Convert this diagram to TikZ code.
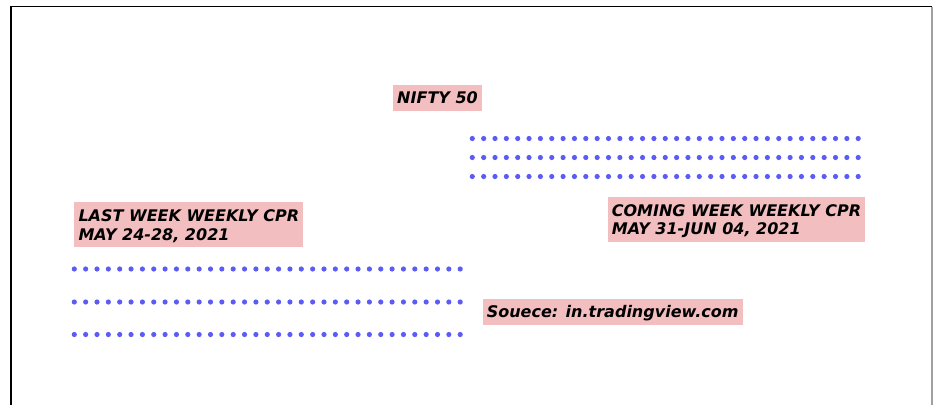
\documentclass[tikz,border=0pt]{standalone}
\usepackage{fontspec}
\setmainfont{DejaVu Sans}
\begin{document}
\begin{tikzpicture}[x=0.75pt,y=0.75pt,yscale=-1,xscale=1,
  cprlabel/.style={fill={rgb, 255:red, 242; green, 190; blue, 191 },inner xsep=3.2pt,inner ysep=0pt,text height=14.4pt,text depth=5pt,align=left,font=\fontsize{12}{14.1}\selectfont\bfseries\itshape},
  cprdot/.style={fill={rgb, 255:red, 92; green, 92; blue, 245 }}]
\useasboundingbox (0,0) rectangle (933,405);

%Shape: Frame
\draw  [line width=1.4pt] (10.8,405) -- (10.8,6.5) -- (932,6.5) ;
\draw  [color={rgb, 255:red, 160; green, 160; blue, 160 }  ,line width=0.8pt] (932,6.5) -- (932,405) ;

%Shape: Dot rows, coming week
\foreach \y in {138.5,157.5,176.5} {\foreach \i in {0,...,34} {\fill [cprdot] (472.3+11.35*\i,\y) circle (2.6) ;}}
%Shape: Dot rows, last week
\foreach \y in {269,302,334.5} {\foreach \i in {0,...,34} {\fill [cprdot] (74.3+11.35*\i,\y) circle (2.6) ;}}

% Text Node
\node (nifty) [cprlabel,anchor=west] at (392.7,97.7) {NIFTY 50};
% Text Node
\node (lastweek) [cprlabel,anchor=west,text height=28.5pt] at (74,224.8) {LAST WEEK WEEKLY CPR\\MAY 24-28, 2021};
% Text Node
\node (comingweek) [cprlabel,anchor=west,text height=28.5pt] at (607.3,219.2) {COMING WEEK WEEKLY CPR\\MAY 31-JUN 04, 2021};
% Text Node
\node (source) [cprlabel,anchor=west] at (482.3,311.7) {Souece: in.tradingview.com};

\end{tikzpicture}
\end{document}
